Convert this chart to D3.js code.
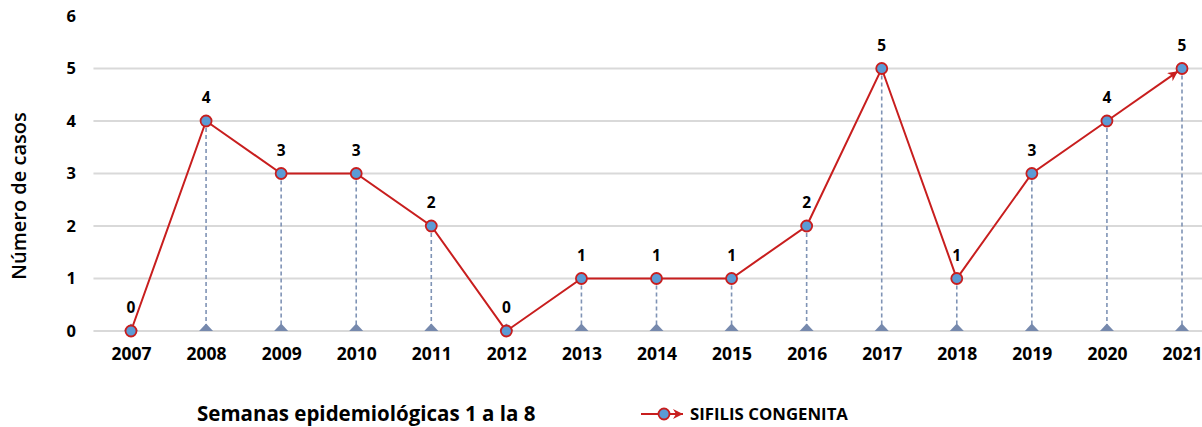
<!DOCTYPE html>
<html><head><meta charset="utf-8">
<script src="https://cdn.jsdelivr.net/npm/d3@7"></script>
<style>body{margin:0;background:#fff}svg{display:block;font-family:"Open Sans",sans-serif}</style>
</head><body><svg id="c" width="1202" height="427"></svg>
<script>
const years = ["2007","2008","2009","2010","2011","2012","2013","2014","2015","2016","2017","2018","2019","2020","2021"];
const cases = [0,4,3,3,2,0,1,1,1,2,5,1,3,4,5];
const yTicks = [0,1,2,3,4,5,6];
const seriesName = "SIFILIS CONGENITA";
const xTitle = "Semanas epidemiológicas 1 a la 8";
const yTitle = "Número de casos";

const svg = d3.select("#c");
const x = d3.scalePoint().domain(years).range([131, 1182]);
const step = x.step();
const y = d3.scaleLinear().domain([0,6]).range([331, 16]);
const red = "#c81e1e";

svg.append("defs").append("marker").attr("id","arr").attr("viewBox","0 0 10 10")
  .attr("refX",10).attr("refY",5).attr("markerWidth",5).attr("markerHeight",5)
  .attr("orient","auto").attr("markerUnits","strokeWidth")
  .append("path").attr("d","M0,0 L10,5 L0,10 L3,5 Z").attr("fill",red);

// gridlines
svg.append("g").selectAll("line").data(yTicks.slice(0,6)).join("line")
  .attr("x1", x(years[0]) - step/2).attr("x2", x(years[years.length-1]) + step/2)
  .attr("y1", d=>y(d)).attr("y2", d=>y(d))
  .attr("stroke","#d9d9d9").attr("stroke-width",2);

// y axis labels
const yAxis = d3.axisLeft(y).tickValues(yTicks).tickSize(0).tickPadding(0).tickFormat(d3.format("d"));
svg.append("g").attr("transform","translate(76,0)").call(yAxis)
  .call(g=>g.select(".domain").remove())
  .selectAll("text").attr("font-family","Open Sans").attr("font-weight","bold").attr("font-size",16.5).attr("fill","#000");

// x axis labels
const xAxis = d3.axisBottom(x).tickSize(0).tickPadding(0);
svg.append("g").attr("transform","translate(0,348)").call(xAxis)
  .call(g=>g.select(".domain").remove())
  .selectAll("text").attr("font-family","Open Sans").attr("font-weight","bold").attr("font-size",17.5).attr("fill","#000");

// drop lines
svg.append("g").selectAll("line").data(years).join("line")
  .attr("x1",d=>x(d)).attr("x2",d=>x(d))
  .attr("y1",(d,i)=>y(cases[i])).attr("y2",y(0))
  .attr("stroke","#7f93b5").attr("stroke-width",1.6).attr("stroke-dasharray","4,3");

// triangles at base
svg.append("g").selectAll("path").data(years).join("path")
  .attr("transform",d=>`translate(${x(d)},${y(0)})`)
  .attr("d","M-7,0 L0,-7.5 L7,0 Z").attr("fill","#7689ad");

// line
const pts = years.map((d,i)=>[x(d), y(cases[i])]);
svg.append("path").datum(pts.slice(0,-1))
  .attr("d", d3.line()).attr("fill","none").attr("stroke",red).attr("stroke-width",2);
{
  const a = pts[pts.length-2], b = pts[pts.length-1];
  const dx=b[0]-a[0], dy=b[1]-a[1], L=Math.hypot(dx,dy);
  const e=[b[0]-dx/L*5, b[1]-dy/L*5];
  svg.append("path").datum([a,e]).attr("d",d3.line()).attr("fill","none")
    .attr("stroke",red).attr("stroke-width",2).attr("marker-end","url(#arr)");
}

// markers
svg.append("g").selectAll("circle").data(years).join("circle")
  .attr("cx",d=>x(d)).attr("cy",(d,i)=>y(cases[i])).attr("r",5.5)
  .attr("fill","#5b9bd5").attr("stroke",red).attr("stroke-width",1.8);

// data labels
svg.append("g").selectAll("text").data(years).join("text")
  .attr("x",d=>x(d)).attr("y",(d,i)=>y(cases[i])-18)
  .attr("text-anchor","middle").attr("font-weight","bold").attr("font-size",15.5).attr("fill","#000")
  .text((d,i)=>cases[i]);

// y title
svg.append("text").attr("transform","translate(26,196) rotate(-90)")
  .attr("text-anchor","middle").attr("font-size",20).attr("font-weight",600).attr("fill","#000")
  .text(yTitle);

// x title
svg.append("text").attr("x",197).attr("y",421).attr("font-size",20.5).attr("font-weight","bold").attr("fill","#000")
  .text(xTitle);

// legend
const lg = svg.append("g").attr("transform","translate(641,414)");
lg.append("line").attr("x1",0).attr("x2",42).attr("y1",0).attr("y2",0)
  .attr("stroke",red).attr("stroke-width",2).attr("marker-end","url(#arr)");
lg.append("circle").attr("cx",23).attr("cy",0).attr("r",5.5).attr("fill","#5b9bd5").attr("stroke",red).attr("stroke-width",1.8);
lg.append("text").attr("x",49).attr("y",6).attr("font-size",16.8).attr("font-weight","bold").attr("fill","#000").text(seriesName);
</script></body></html>
